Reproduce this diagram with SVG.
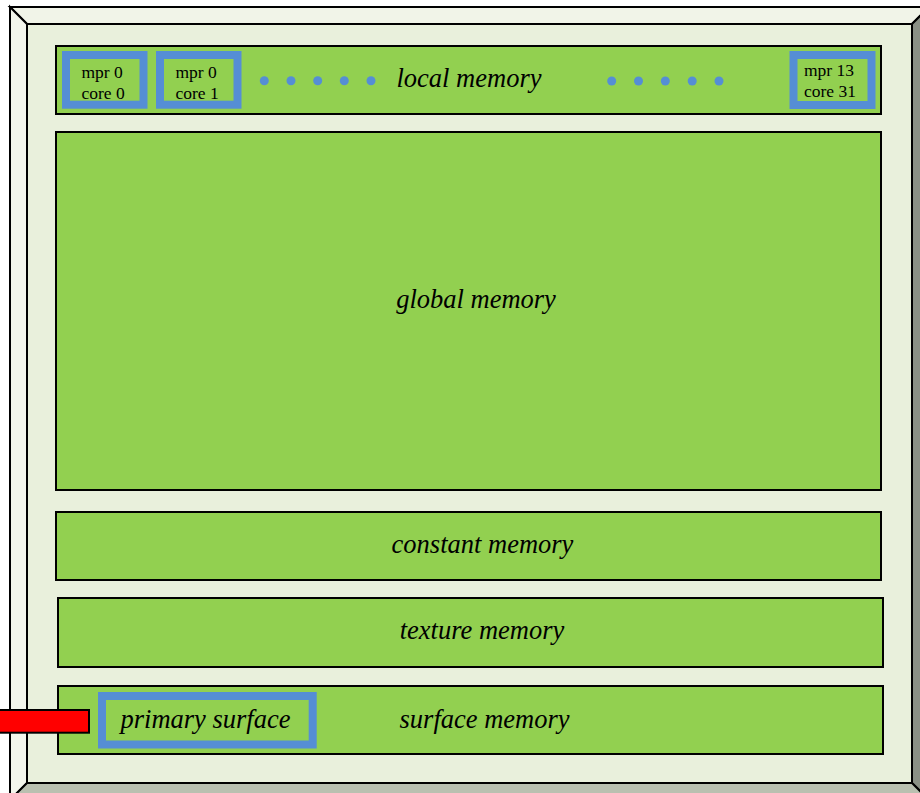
<svg xmlns="http://www.w3.org/2000/svg" width="920" height="793" viewBox="0 0 920 793">
  <style>
    .bevel { stroke: #000; stroke-width: 2; stroke-linejoin: miter; }
    .mem { fill: #92d050; stroke: #000; stroke-width: 2; }
    .core { fill: #92d050; stroke: #558ed5; stroke-width: 8; }
    .dot { fill: #558ed5; }
    .small { font-family: "Liberation Serif", "Times New Roman", serif; font-size: 17.5px; fill: #000; }
    .label { font-family: "Liberation Serif", "Times New Roman", serif; font-size: 26.5px; font-style: italic; fill: #000; text-anchor: middle; }
  </style>
  <g id="frame">
    <rect x="27" y="24" width="885" height="759" fill="#e9f0dc"/>
    <polygon class="bevel" points="10,7 929,7 912,24 27,24" fill="#f1f4e8"/>
    <polygon class="bevel" points="10,7 27,24 27,783 10,800" fill="#f3f6ec"/>
    <polygon class="bevel" points="929,7 929,800 912,783 912,24" fill="#8a9085"/>
    <polygon class="bevel" points="10,800 27,783 912,783 929,800" fill="#b9c0b0"/>
  </g>
  <g id="local-memory">
    <rect class="mem" x="56" y="46" width="825" height="68"/>
    <text class="label" x="469" y="87">local memory</text>
    <circle class="dot" cx="264.3" cy="80.7" r="4.5"/>
    <circle class="dot" cx="291" cy="80.7" r="4.5"/>
    <circle class="dot" cx="317.7" cy="80.7" r="4.5"/>
    <circle class="dot" cx="344.3" cy="80.7" r="4.5"/>
    <circle class="dot" cx="371" cy="80.7" r="4.5"/>
    <circle class="dot" cx="611.7" cy="81" r="4.5"/>
    <circle class="dot" cx="638.5" cy="81" r="4.5"/>
    <circle class="dot" cx="665.3" cy="81" r="4.5"/>
    <circle class="dot" cx="692.2" cy="81" r="4.5"/>
    <circle class="dot" cx="719" cy="81" r="4.5"/>
  </g>
  <g id="core-0">
    <rect class="core" x="66" y="55" width="77.5" height="49.7"/>
    <text class="small" x="81.5" y="77.5">mpr 0</text>
    <text class="small" x="81.5" y="98.5">core 0</text>
  </g>
  <g id="core-1">
    <rect class="core" x="160" y="55" width="77.5" height="49.7"/>
    <text class="small" x="175.5" y="77.5">mpr 0</text>
    <text class="small" x="175.5" y="98.5">core 1</text>
  </g>
  <g id="core-31">
    <rect class="core" x="793.5" y="55" width="78" height="50"/>
    <text class="small" x="804" y="75.5">mpr 13</text>
    <text class="small" x="804" y="97">core 31</text>
  </g>
  <g id="global-memory">
    <rect class="mem" x="56" y="132" width="825" height="358"/>
    <text class="label" x="476" y="308">global memory</text>
  </g>
  <g id="constant-memory">
    <rect class="mem" x="56" y="512" width="825" height="68"/>
    <text class="label" x="482.5" y="553">constant memory</text>
  </g>
  <g id="texture-memory">
    <rect class="mem" x="58" y="598" width="825" height="69"/>
    <text class="label" x="482" y="639">texture memory</text>
  </g>
  <g id="surface-memory">
    <rect class="mem" x="58" y="686" width="825" height="68"/>
    <text class="label" x="484.5" y="728">surface memory</text>
  </g>
  <g id="primary-surface">
    <rect class="core" x="102" y="696" width="210.7" height="48.5"/>
    <text class="label" x="205.5" y="728">primary surface</text>
  </g>
  <g id="connectors">
    <rect x="-5" y="710" width="94" height="22.7" fill="#ff0000" stroke="#000" stroke-width="2"/>
  </g>
</svg>
